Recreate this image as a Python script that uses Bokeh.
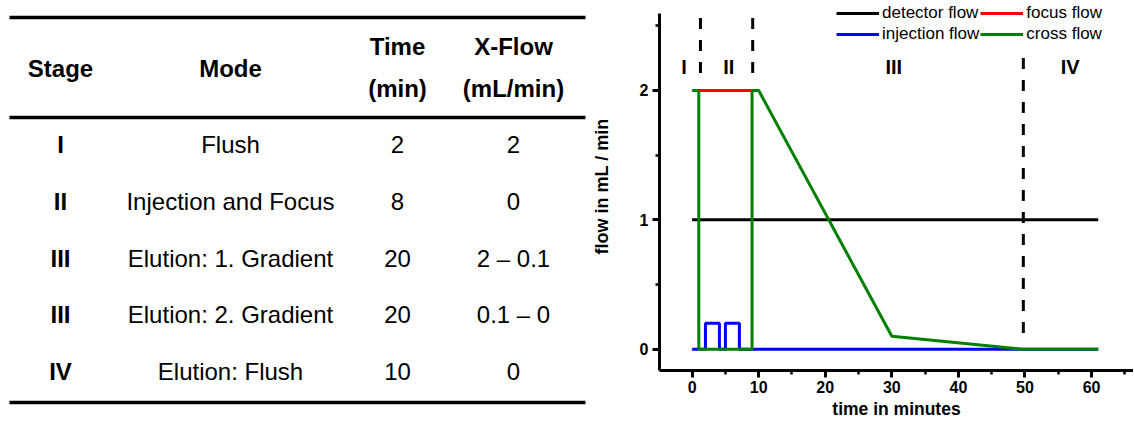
from bokeh.plotting import figure
from bokeh.models import Range1d, Legend, LegendItem, SingleIntervalTicker
from bokeh.layouts import row
from bokeh.core.properties import value
from bokeh.embed import file_html
from bokeh.resources import INLINE

FONT = "Liberation Sans"

# ---------------- table data ----------------
header_single = ["Stage", "Mode"]
header_top = ["Time", "X-Flow"]
header_bottom = ["(min)", "(mL/min)"]
stages = ["I", "II", "III", "III", "IV"]
modes = ["Flush", "Injection and Focus", "Elution: 1. Gradient",
         "Elution: 2. Gradient", "Elution: Flush"]
times = ["2", "8", "20", "20", "10"]
xflows = ["2", "0", "2 \u2013 0.1", "0.1 \u2013 0", "0"]

# ---------------- chart data ----------------
detector_t = [0, 61]
detector_flow = [1, 1]
focus_t = [1, 9]
focus_flow = [2, 2]
injection_t = [0, 2, 2, 4.1, 4.1, 5, 5, 7.1, 7.1, 61]
injection_flow = [0, 0, 0.2, 0.2, 0, 0, 0.2, 0.2, 0, 0]
cross_t = [0, 1, 1, 9, 9, 10, 30, 49.5, 61]
cross_flow = [2, 2, 0, 0, 2, 2, 0.1, 0, 0]
stage_bounds = [1.25, 9.1, 49.75]
bound_top = [2.56, 2.56, 2.25]
bound_bottom = [2.13, 2.13, 0.05]
stage_names = ["I", "II", "III", "IV"]
stage_label_t = [-1.2, 5.5, 30.3, 56.8]
stage_label_y = [2.18, 2.18, 2.18, 2.18]

H = 421

# ---------------- table figure ----------------
W_T = 588
t = figure(width=W_T, height=H, x_range=Range1d(0, W_T), y_range=Range1d(H, 0),
           x_axis_type=None, y_axis_type=None, output_backend="svg",
           toolbar_location=None, min_border=0, outline_line_color=None)
t.frame_align = False
t.grid.visible = False

col_x = [60, 230, 397, 513]
rule_y = [17, 117, 402]
rule_x0, rule_x1 = 9, 585
t.segment(x0=[rule_x0] * 3, y0=rule_y, x1=[rule_x1] * 3, y1=rule_y,
          line_color="black", line_width=3.5)

fs = "24px"
t.text(x=col_x[:2], y=[68, 68], text=header_single, text_font=value(FONT),
       text_font_style="bold", text_font_size=fs, text_align="center",
       text_baseline="middle", text_color="black")
t.text(x=col_x[2:], y=[46, 46], text=header_top, text_font=value(FONT),
       text_font_style="bold", text_font_size=fs, text_align="center",
       text_baseline="middle", text_color="black")
t.text(x=col_x[2:], y=[88, 88], text=header_bottom, text_font=value(FONT),
       text_font_style="bold", text_font_size=fs, text_align="center",
       text_baseline="middle", text_color="black")

row_y0, row_h = 144, 56.75
n = len(stages)
row_y = [row_y0 + i * row_h for i in range(n)]
t.text(x=[col_x[0]] * n, y=row_y, text=stages, text_font=value(FONT),
       text_font_style="bold", text_font_size=fs, text_align="center",
       text_baseline="middle", text_color="black")
for cx, col in zip(col_x[1:], [modes, times, xflows]):
    t.text(x=[cx] * n, y=row_y, text=col, text_font=value(FONT),
           text_font_size=fs, text_align="center", text_baseline="middle",
           text_color="black")

# ---------------- chart figure ----------------
W_P = 545
Y_LO, Y_AXIS_TOP, Y_FRAME_TOP = -0.165, 2.595, 2.68
p = figure(width=W_P, height=H, x_range=Range1d(-4.9, 66.3),
           y_range=Range1d(Y_LO, Y_FRAME_TOP), output_backend="svg",
           toolbar_location=None, min_border_left=70, min_border_right=0,
           min_border_top=2, min_border_bottom=51)
p.frame_align = False
p.grid.visible = False
p.outline_line_color = None

p.xaxis.ticker = SingleIntervalTicker(interval=10, num_minor_ticks=2)
p.yaxis.ticker = SingleIntervalTicker(interval=1, num_minor_ticks=2)
p.yaxis.bounds = (Y_LO, Y_AXIS_TOP)
for ax in (p.xaxis, p.yaxis):
    ax.axis_line_width = 3
    ax.major_tick_line_width = 3
    ax.minor_tick_line_width = 2.5
    ax.major_tick_in = 0
    ax.major_tick_out = 7
    ax.minor_tick_in = 0
    ax.minor_tick_out = 4
    ax.major_label_text_font = FONT
    ax.major_label_text_font_style = "bold"
    ax.major_label_text_font_size = "16px"
    ax.major_label_text_color = "black"
    ax.axis_label_text_font = FONT
    ax.axis_label_text_font_style = "bold"
    ax.axis_label_text_color = "black"
p.xaxis.major_label_standoff = 3
p.yaxis.major_label_standoff = 4
p.yaxis.axis_label = "flow in mL / min"
p.yaxis.axis_label_text_font_size = "18px"
p.yaxis.axis_label_standoff = 25
p.xaxis.axis_label = "time in minutes"
p.xaxis.axis_label_text_font_size = "17.5px"
p.xaxis.axis_label_standoff = 3

r_det = p.line(detector_t, detector_flow, line_color="black", line_width=3)
r_inj = p.line(injection_t, injection_flow, line_color="#0000ff", line_width=3)
r_cross = p.line(cross_t, cross_flow, line_color="#008000", line_width=3)
r_focus = p.line(focus_t, focus_flow, line_color="#ff0000", line_width=3)

p.segment(x0=stage_bounds, y0=bound_top, x1=stage_bounds, y1=bound_bottom,
          line_color="black", line_width=3, line_dash="11 11")
p.text(x=stage_label_t, y=stage_label_y, text=stage_names,
       text_font=value(FONT), text_font_style="bold", text_font_size="20px",
       text_align="center", text_baseline="middle", text_color="black")

legend = Legend(items=[
    LegendItem(label="detector flow", renderers=[r_det]),
    LegendItem(label="injection flow", renderers=[r_inj]),
    LegendItem(label="focus flow", renderers=[r_focus]),
    LegendItem(label="cross flow", renderers=[r_cross]),
], ncols=2, location=(177, 326))
legend.label_text_font = FONT
legend.label_text_font_size = "17px"
legend.label_text_color = "black"
legend.glyph_width = 43
legend.glyph_height = 20
legend.label_height = 20
legend.label_standoff = 3
legend.spacing = 1
legend.padding = 0
legend.margin = 0
legend.border_line_color = None
legend.background_fill_alpha = 0
p.add_layout(legend)

layout = row(t, p)
open("out.html", "w").write(file_html(layout, INLINE))
